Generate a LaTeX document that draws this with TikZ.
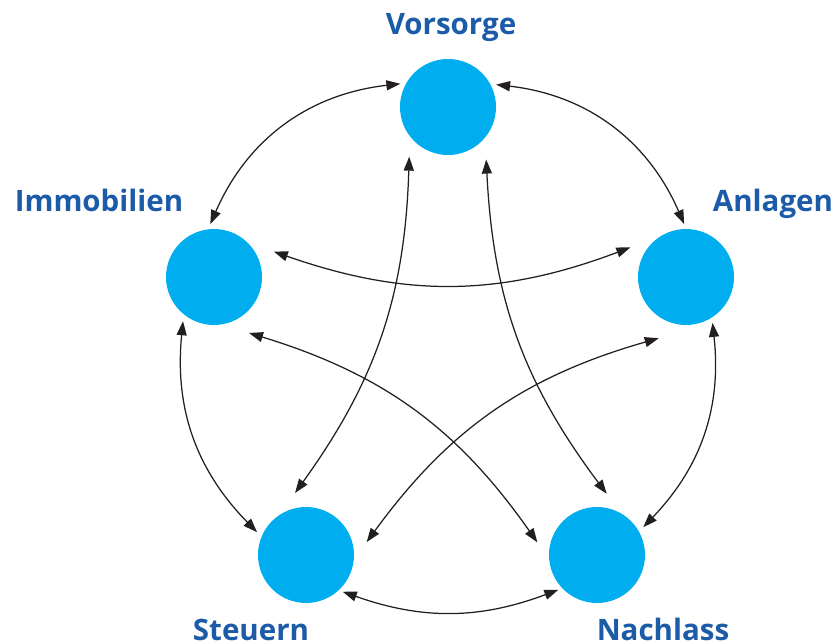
\documentclass[tikz,border=0pt]{standalone}
\usepackage{fontspec}
\setmainfont{Open Sans}
\usetikzlibrary{arrows.meta,calc}
\definecolor{circ}{HTML}{00AEEF}
\definecolor{lab}{HTML}{1B5BA8}
\definecolor{ink}{HTML}{231F20}
\tikzset{
  ball/.style={circle,fill=circ,draw=none,minimum size=96pt,inner sep=0pt,outer sep=0pt},
  lbl/.style={anchor=base,text=lab,font=\fontsize{29.5}{33}\selectfont\bfseries,inner sep=0pt},
  link/.style={draw=ink,line width=1.25pt,{Triangle[length=14pt,width=10pt]}-{Triangle[length=14pt,width=10pt]}}
}
\begin{document}
\begin{tikzpicture}[x=1pt,y=1pt]
\useasboundingbox (0,0) rectangle (838,643);
\node[ball] (vor) at (448,536) {};
\node[ball] (imm) at (214,366) {};
\node[ball] (anl) at (686,366) {};
\node[ball] (steu) at (306,88) {};
\node[ball] (nach) at (597,88) {};
\node[lbl] (tvor) at (451,608) {Vorsorge};
\node[lbl] (timm) at (99,431) {Immobilien};
\node[lbl] (tanl) at (773,431) {Anlagen};
\node[lbl] (tsteu) at (251,3) {Steuern};
\node[lbl] (tnach) at (663,3) {Nachlass};
% outer ring
\path[link] ($(vor)+(154:53)$) to[bend right=30] ($(imm)+(94:53)$);
\path[link] ($(imm)+(235:54)$) to[bend right=25] ($(steu)+(155:54)$);
\path[link] ($(steu)+(315:52)$) to[bend right=20] ($(nach)+(222:52)$);
\path[link] ($(nach)+(31:54)$) to[bend right=25] ($(anl)+(300:53)$);
\path[link] ($(anl)+(92:53)$) to[bend right=30] ($(vor)+(25:53)$);
% star
\path[link] ($(vor)+(232:63)$) to[bend left=17] ($(steu)+(100:63)$);
\path[link] ($(vor)+(306:65)$) to[bend right=17] ($(nach)+(81:62)$);
\path[link] ($(imm)+(23:65)$) to[bend right=20] ($(anl)+(152:63)$);
\path[link] ($(imm)+(302:66)$) to[bend left=19] ($(nach)+(168:61)$);
\path[link] ($(anl)+(246:67)$) to[bend right=19] ($(steu)+(12:62)$);
\end{tikzpicture}
\end{document}
